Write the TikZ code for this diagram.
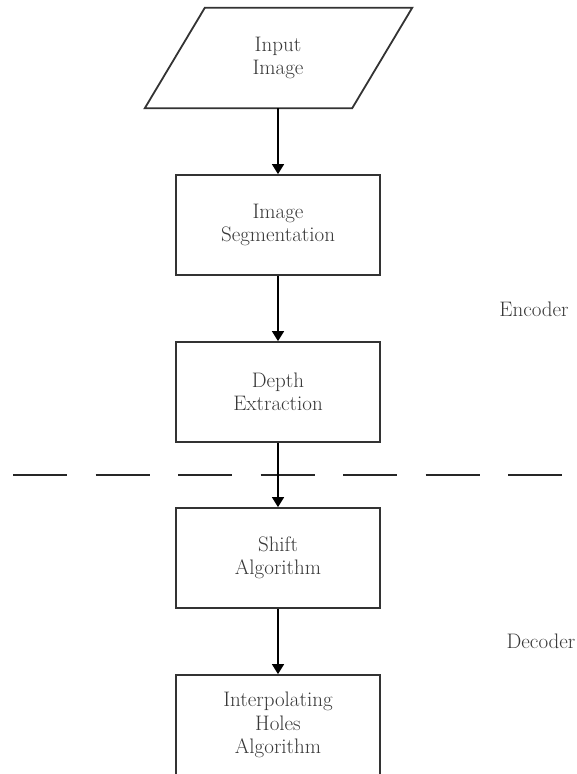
\documentclass[tikz,border=0pt]{standalone}
\usetikzlibrary{arrows.meta}
\begin{document}
\begin{tikzpicture}[x=1pt,y=-1pt,
  txt/.style={text=black!78,font=\fontsize{21}{23.5}\selectfont,align=center},
  stepbox/.style={txt,draw=black!80,line width=1.8pt,minimum width=204pt,minimum height=100pt,inner sep=0pt},
  flow/.style={line width=1.6pt,-{Triangle[width=12pt,length=10pt]}},
  divider/.style={line width=2pt,black!85,dash pattern=on 54pt off 28.5pt}]
  \useasboundingbox (0,0) rectangle (577,774);

  % input parallelogram
  \node[txt,minimum width=204pt,minimum height=100pt,inner sep=0pt] (input) at (278,58) {Input\\Image};
  \draw[black!80,line width=1.8pt,line join=miter]
    ([xshift=29pt]input.north west) -- ([xshift=32pt]input.north east)
    -- ([xshift=-28pt]input.south east) -- ([xshift=-31pt]input.south west) -- cycle;

  % processing steps
  \node[stepbox] (seg)   at (278,225) {Image\\Segmentation};
  \node[stepbox] (depth) at (278,392) {Depth\\Extraction};
  \node[stepbox] (shift) at (278,558) {Shift\\Algorithm};
  \node[stepbox] (holes) at (278,725) {Interpolating\\Holes\\Algorithm};

  % encoder / decoder boundary
  \coordinate (divL) at (13,475);
  \coordinate (divR) at (577,475);
  \draw[divider] (divL) -- (divR);

  % connectors
  \draw[flow] (input.south) -- (seg.north);
  \draw[flow] (seg.south) -- (depth.north);
  \draw[flow] (depth.south) -- (shift.north);
  \draw[flow] (shift.south) -- (holes.north);

  % side labels
  \node[txt] (enc) at (534,309) {Encoder};
  \node[txt] (dec) at (541,641) {Decoder};
\end{tikzpicture}
\end{document}
